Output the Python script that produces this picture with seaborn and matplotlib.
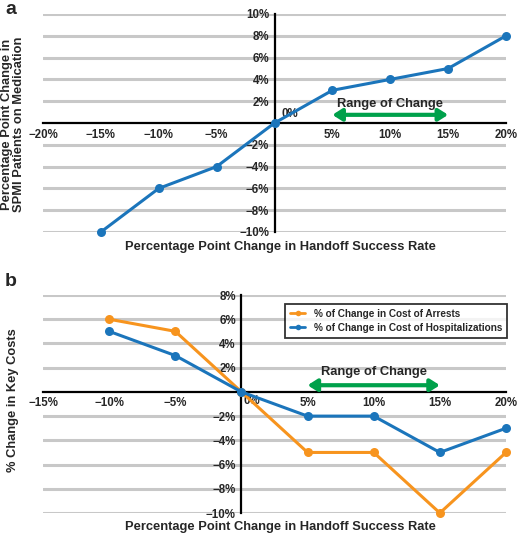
import numpy as np
import pandas as pd
import matplotlib
matplotlib.use("Agg")
import matplotlib.pyplot as plt
import seaborn as sns
from matplotlib.ticker import FuncFormatter
from matplotlib.lines import Line2D

# panel a data
handoff_a = [-15, -10, -5, 0, 5, 10, 15, 20]
medication_change = [-10, -6, -4, 0, 3, 4, 5, 8]

# panel b data
handoff_b = [-10, -5, 0, 5, 10, 15, 20]
arrest_cost = [6, 5, 0, -5, -5, -10, -5]
hosp_cost = [5, 3, 0, -2, -2, -5, -3]
series_names = ["% of Change in Cost of Arrests", "% of Change in Cost of Hospitalizations"]

xticks_a = [-20, -15, -10, -5, 0, 5, 10, 15, 20]
yticks_a = [-10, -8, -6, -4, -2, 0, 2, 4, 6, 8, 10]
xticks_b = [-15, -10, -5, 0, 5, 10, 15, 20]
yticks_b = [-10, -8, -6, -4, -2, 0, 2, 4, 6, 8]
range_of_change = (5, 15)

BLUE = "#1B75BB"
ORANGE = "#F7941E"
GREEN = "#00A14B"
GRID = "#C8C8C8"

sns.set_style("white")
plt.rcParams["font.family"] = ["Liberation Sans", "DejaVu Sans"]
plt.rcParams["font.weight"] = "bold"


def pct(v, pos=None):
    if v == 0:
        return ""
    return f"{v:.0f}%".replace("-", "\u2212")


def style_axes(ax, xticks, yticks):
    ax.set_xlim(xticks[0], xticks[-1])
    ax.set_ylim(yticks[0], yticks[-1])
    for y in yticks:
        if y != 0:
            ax.axhline(y, color=GRID, lw=2.2, zorder=0)
    for side in ["top", "right"]:
        ax.spines[side].set_visible(False)
    for side in ["left", "bottom"]:
        ax.spines[side].set_position(("data", 0))
        ax.spines[side].set_linewidth(1.6)
        ax.spines[side].set_color("black")
        ax.spines[side].set_zorder(2)
    ax.set_xticks(xticks)
    ax.set_yticks(yticks)
    ax.xaxis.set_major_formatter(FuncFormatter(pct))
    ax.yaxis.set_major_formatter(FuncFormatter(pct))
    ax.tick_params(axis="both", direction="inout", length=6, width=1.5,
                   color="black", labelsize=8.3, pad=1)
    for lab in ax.get_xticklabels() + ax.get_yticklabels():
        lab.set_fontweight("bold")


def range_arrow(ax, y_arrow, y_text):
    ax.annotate("", xy=(range_of_change[0], y_arrow), xytext=(range_of_change[1], y_arrow),
                arrowprops=dict(arrowstyle="<|-|>,head_length=0.55,head_width=0.35",
                                lw=3, color=GREEN, shrinkA=0, shrinkB=0), zorder=3)
    ax.text(np.mean(range_of_change), y_text, "Range of Change", ha="center", va="center",
            fontsize=9.3, fontweight="bold", zorder=3)


fig = plt.figure(figsize=(5.2, 5.35), dpi=100)
ax_a = fig.add_axes([43 / 520, 1 - 232 / 535, 463 / 520, 218 / 535])
ax_b = fig.add_axes([43 / 520, 1 - 513 / 535, 463 / 520, 218 / 535])

# ---- panel a
df_a = pd.DataFrame({"handoff": handoff_a, "change": medication_change})
style_axes(ax_a, xticks_a, yticks_a)
sns.lineplot(data=df_a, x="handoff", y="change", color=BLUE, lw=2.2, marker="o",
             markersize=6.5, markeredgewidth=0, ax=ax_a, zorder=4, clip_on=False)
ax_a.set_xlabel("")
ax_a.set_ylabel("")
ax_a.text(0.6, 0.3, "0%", ha="left", va="bottom", fontsize=8.3, fontweight="bold")
range_arrow(ax_a, 0.75, 1.75)
fig.text(280 / 520, 1 - 247 / 535, "Percentage Point Change in Handoff Success Rate",
         ha="center", va="center", fontsize=9.3, fontweight="bold")
fig.text(13 / 520, 1 - 124 / 535, "Percentage Point Change in\nSPMI Patients on Medication",
         ha="center", va="center", rotation=90, fontsize=9.3, fontweight="bold", linespacing=1.05)
fig.text(5 / 520, 1 - 10 / 535, "a", ha="left", va="center", fontsize=14, fontweight="bold")

# ---- panel b
df_b = pd.DataFrame({
    "handoff": handoff_b * 2,
    "change": arrest_cost + hosp_cost,
    "series": [series_names[0]] * len(handoff_b) + [series_names[1]] * len(handoff_b),
})
style_axes(ax_b, xticks_b, yticks_b)
sns.lineplot(data=df_b, x="handoff", y="change", hue="series",
             palette=[ORANGE, BLUE], lw=2.2, marker="o", markersize=6.5,
             markeredgewidth=0, ax=ax_b, zorder=4, legend=False, clip_on=False)
ax_b.set_xlabel("")
ax_b.set_ylabel("")
ax_b.text(0.15, -0.25, "0%", ha="left", va="top", fontsize=8.3, fontweight="bold")
range_arrow(ax_b, 0.55, 1.65)
handles = [Line2D([], [], color=c, lw=2, marker="o", markersize=4, markeredgewidth=0)
           for c in [ORANGE, BLUE]]
leg = ax_b.legend(handles, series_names, loc="upper right", bbox_to_anchor=(1.003, 0.96),
                  fontsize=7.2, frameon=True, fancybox=False, handlelength=1.5,
                  borderpad=0.5, labelspacing=0.4, handletextpad=0.9, borderaxespad=0)
leg.get_frame().set_edgecolor("black")
leg.get_frame().set_linewidth(1.3)
leg.set_zorder(5)
fig.text(280 / 520, 1 - 527 / 535, "Percentage Point Change in Handoff Success Rate",
         ha="center", va="center", fontsize=9.3, fontweight="bold")
fig.text(13 / 520, 1 - 400 / 535, "% Change in Key Costs",
         ha="center", va="center", rotation=90, fontsize=9.3, fontweight="bold")
fig.text(5 / 520, 1 - 282 / 535, "b", ha="left", va="center", fontsize=14, fontweight="bold")

fig.savefig("out.png", dpi=100)
